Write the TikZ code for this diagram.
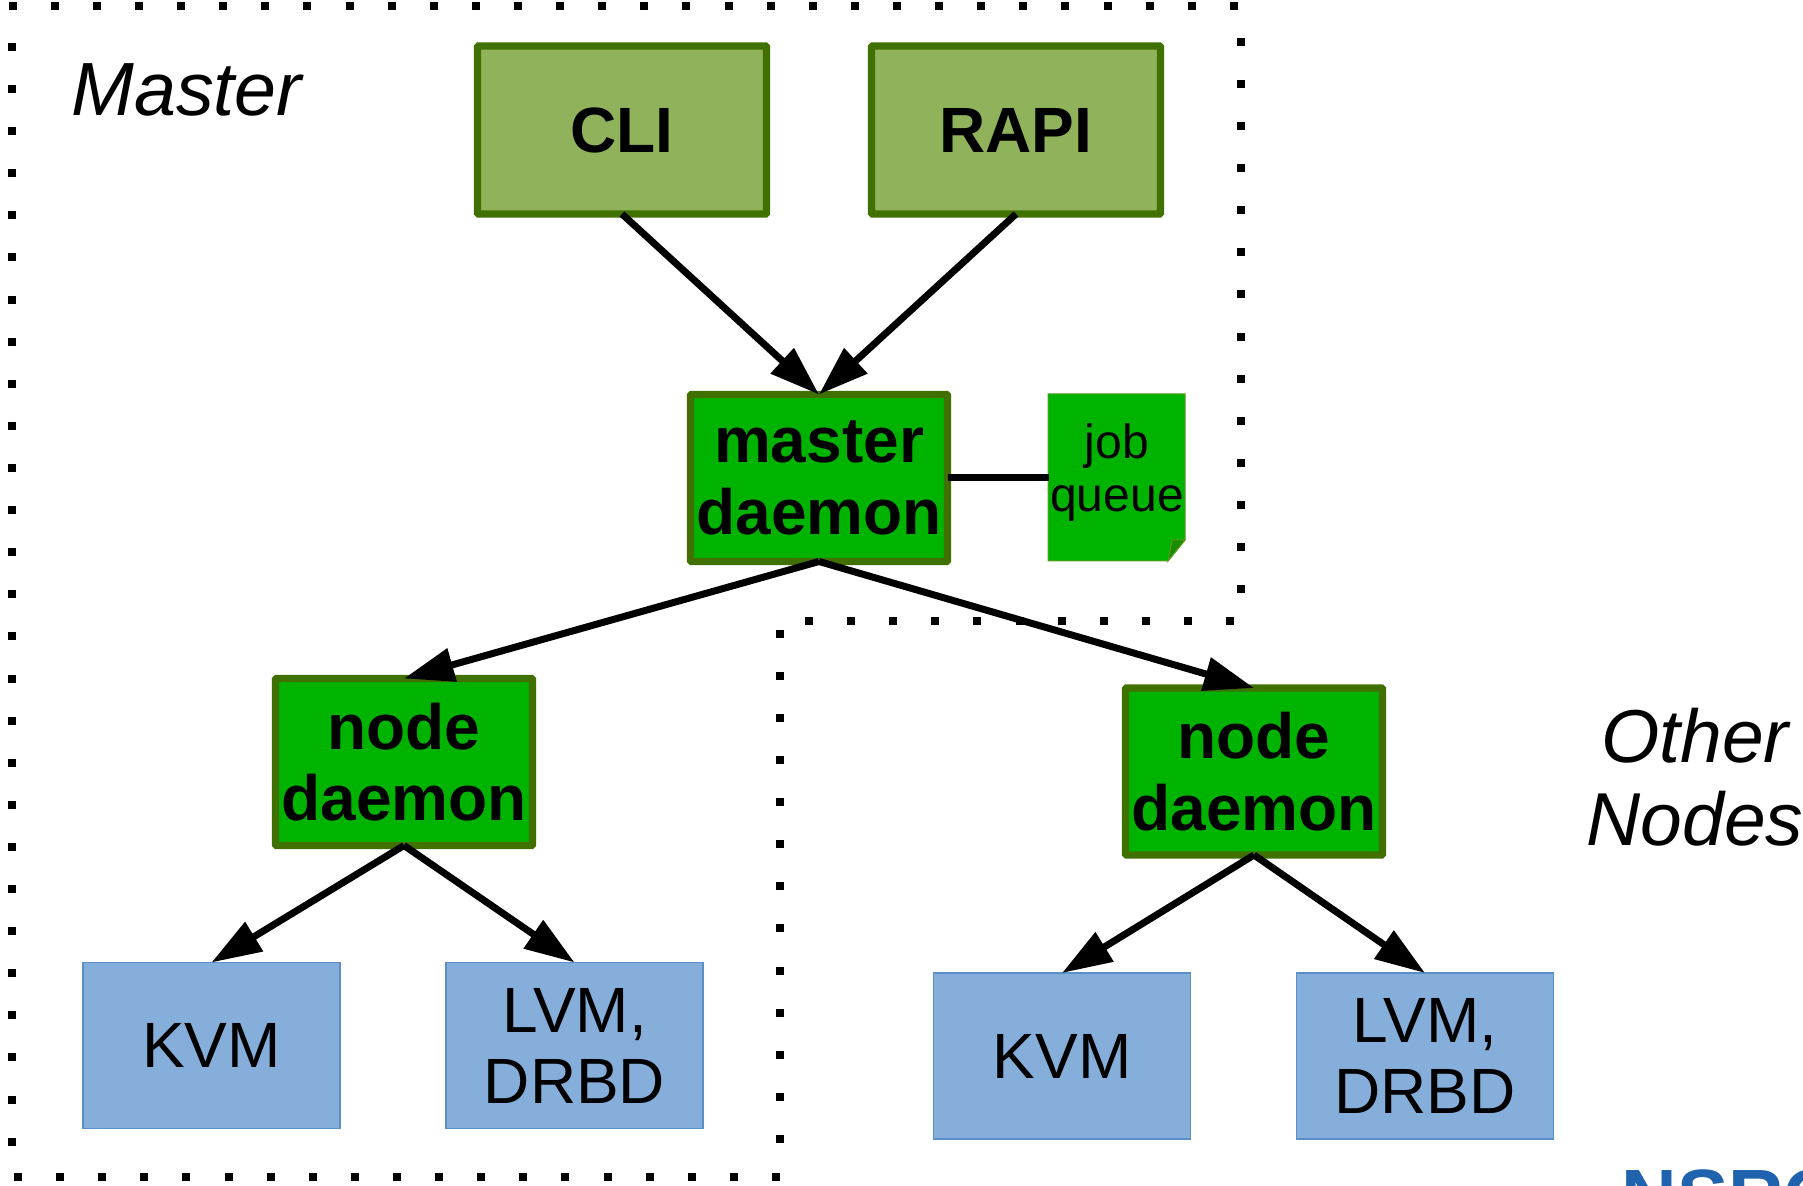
\documentclass[tikz,border=0pt]{standalone}
\usepackage{fontspec}
\setmainfont{Liberation Sans}
\usetikzlibrary{arrows.meta}
\definecolor{olive}{HTML}{3F7000}
\definecolor{lightgreen}{HTML}{8FB25A}
\definecolor{brightgreen}{HTML}{00B300}
\definecolor{softblue}{HTML}{85AEDA}
\definecolor{blueedge}{HTML}{5B8FC8}
\definecolor{foldgreen}{HTML}{1A8C00}
\definecolor{jobedge}{HTML}{5F9A20}
\definecolor{logoblue}{HTML}{1F62AE}
\tikzset{
  boxbase/.style={rectangle,outer sep=0pt,inner sep=0pt,align=center,text=black,font=\fontsize{32}{35.5}\selectfont},
  toolbox/.style={boxbase,draw=olive,line width=3.7pt,rounded corners=0.6pt,fill=lightgreen,minimum width=144.5pt,minimum height=84pt,font=\fontsize{32}{35.5}\selectfont\bfseries},
  daemonbox/.style={boxbase,draw=olive,line width=3.7pt,rounded corners=0.6pt,fill=brightgreen,minimum width=128.5pt,minimum height=83.5pt,font=\fontsize{32}{35.8}\selectfont\bfseries},
  backend/.style={boxbase,draw=blueedge,line width=0.6pt,fill=softblue,minimum width=128.5pt,minimum height=83pt},
  jobtext/.style={boxbase,minimum width=68.5pt,minimum height=83.5pt,font=\fontsize{24}{26.5}\selectfont},
  region/.style={font=\fontsize{37.5}{41.5}\selectfont\itshape,align=center,inner sep=0pt},
  conn/.style={draw=black,line width=3.5pt,-{Triangle[length=25pt,width=16.5pt]}},
  plainconn/.style={draw=black,line width=3.5pt},
  dotmark/.style={fill=black}
}
\begin{document}
\begin{tikzpicture}[x=0.5pt,y=-0.5pt]
\clip (0,0) rectangle (1803,1186);
\fill[white] (0,0) rectangle (1803,1186);
% dotted region outline
\foreach \k in {0,...,29} \fill[dotmark] ({12.7+42.11*\k-4},2) rectangle ++(8,8);
\foreach \k in {0,...,13} \fill[dotmark] (1237,{42+42.08*\k-4}) rectangle ++(8,8);
\foreach \k in {0,...,10} \fill[dotmark] ({1230-42.1*\k-4},617) rectangle ++(8,8);
\foreach \k in {0,...,12} \fill[dotmark] (776,{633.7+42.1*\k-4}) rectangle ++(8,8);
\foreach \k in {0,...,18} \fill[dotmark] ({18+42.11*\k-4},1173) rectangle ++(8,8);
\foreach \k in {0,...,26} \fill[dotmark] (7.7,{47+42.1*\k-4}) rectangle ++(8,8);
% job queue sheet
\filldraw[fill=brightgreen,draw=jobedge,line width=0.5pt] (1048,394) -- (1185,394) -- (1185,540) -- (1168,561) -- (1048,561) -- cycle;
\filldraw[fill=foldgreen,draw=jobedge,line width=0.5pt] (1168,561) -- (1172,540) -- (1185,540) -- cycle;
% nodes
\node[toolbox] (cli) at (622,130) {CLI};
\node[toolbox] (rapi) at (1016,130) {RAPI};
\node[daemonbox] (master) at (819,478) {\raisebox{-1pt}{master}\\\raisebox{-1pt}{daemon}};
\node[jobtext] (job) at (1117,472.5) {job\\queue};
\node[daemonbox] (nodeL) at (404,762) {node\\daemon};
\node[daemonbox] (nodeR) at (1254,771.5) {node\\daemon};
\node[backend] (kvmL) at (211.5,1045.5) {KVM};
\node[backend] (lvmL) at (574.5,1045.5) {LVM,\\DRBD};
\node[backend] (kvmR) at (1062,1056) {KVM};
\node[backend] (lvmR) at (1425,1056) {LVM,\\DRBD};
\node[region,anchor=base west,font=\fontsize{37.7}{42}\selectfont\itshape] (masterlabel) at (71,116) {Master};
\node[region] (otherlabel) at (1695,777) {Other\\Nodes};
\node[anchor=base west,inner sep=0pt,text=logoblue,font=\fontsize{38.5}{42}\selectfont\bfseries] (logo) at (1621,1223) {NSRC};
% connectors
\draw[conn] (cli.south) -- (master.north);
\draw[conn] (rapi.south) -- (master.north);
\draw[plainconn] (master.east) -- (job.west |- master.east);
\draw[conn] (master.south) -- (nodeL.north);
\draw[conn] (master.south) -- (nodeR.north);
\draw[conn] (nodeL.south) -- (kvmL.north);
\draw[conn] (nodeL.south) -- (lvmL.north);
\draw[conn] (nodeR.south) -- (kvmR.north);
\draw[conn] (nodeR.south) -- (lvmR.north);
\end{tikzpicture}
\end{document}
